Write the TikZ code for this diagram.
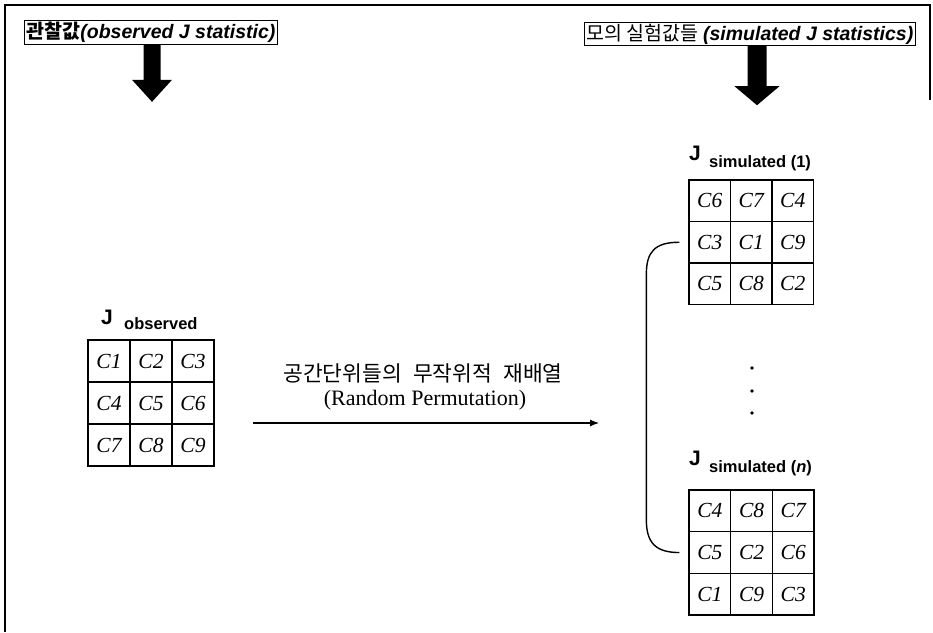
\documentclass[tikz,border=0pt]{standalone}
\usepackage{fontspec}
\setmainfont{Liberation Serif}
\newfontfamily\arial{Liberation Sans}
\newfontfamily\kr{Noto Sans CJK KR}
\usetikzlibrary{arrows.meta,calc}
\tikzset{
  cell/.style={draw, line width=1.3pt, minimum size=#1, inner sep=0pt, font=\fontsize{21.5}{21.5}\selectfont\itshape},
  header/.style={draw, line width=1.1pt, inner xsep=2pt, inner ysep=1.5pt, font=\fontsize{19.5}{19.5}\selectfont},
  jmain/.style={inner sep=0pt, anchor=base west, font=\arial\bfseries\fontsize{21}{21}\selectfont},
  jsub/.style={inner sep=0pt, anchor=base west, font=\arial\bfseries\fontsize{16.5}{16.5}\selectfont},
  blockarrow/.style={fill=black},
  frameline/.style={line width=1.8pt},
  permarrow/.style={line width=1.1pt, -{Latex[length=9pt,width=7pt]}},
  bracket/.style={line width=1.4pt},
}
\newcommand\mygrid[5]{%
  \foreach \t [count=\i from 0] in {#5} {%
    \pgfmathtruncatemacro\rr{div(\i,3)}%
    \pgfmathtruncatemacro\cc{mod(\i,3)}%
    \node[cell=#4pt] (#1-\rr\cc) at ({#2+\cc*#4+#4/2},{#3+\rr*#4+#4/2}) {\t};
  }%
}
\begin{document}
\begin{tikzpicture}[x=1pt,y=-1pt]
\useasboundingbox (0,0) rectangle (933,632);
\fill[white] (0,0) rectangle (933,632);
% frame
\draw[frameline] (5,632) -- (5,5) -- (930,5) -- (930,100);
% headers
\node[header] (hobs) at (151,32.5) {{\kr\bfseries 관찰값}{\arial\bfseries\itshape (observed J statistic)}};
\node[header] (hsim) at (750,34) {{\kr 모의 실험값들 }{\arial\bfseries\itshape (simulated J statistics)}};
% block arrows
\path (hobs.south -| 152,0) coordinate (ba1);
\path (hsim.south -| 757,0) coordinate (ba2);
\fill[blockarrow] ($(ba1)+(-8.5,0)$) -- ++(0,35) -- ++(-11.5,0) -- ($(ba1)+(0,57)$) -- ($(ba1)+(20,35)$) -- ++(-11.5,0) -- ($(ba1)+(8.5,0)$) -- cycle;
\fill[blockarrow] ($(ba2)+(-9.5,0)$) -- ++(0,40) -- ++(-13,0) -- ($(ba2)+(0,59)$) -- ($(ba2)+(22.5,40)$) -- ++(-13,0) -- ($(ba2)+(9.5,0)$) -- cycle;
% observed grid
\node[jmain] (jo) at (101,324) {J};
\node[jsub] (jos) at (124,329) {observed};
\mygrid{o}{88}{340}{42}{C1,C2,C3,C4,C5,C6,C7,C8,C9}
% simulated 1
\node[jmain] (j1) at (689,160) {J};
\node[jsub] (j1s) at (709,167) {simulated (1)};
\mygrid{a}{689}{180}{41.5}{C6,C7,C4,C3,C1,C9,C5,C8,C2}
% simulated n
\node[jmain] (jn) at (689,465) {J};
\node[jsub] (jns) at (709,472) {simulated (\textit{n})};
\mygrid{b}{689}{490}{41.7}{C4,C8,C7,C5,C2,C6,C1,C9,C3}
% dots
\fill (752,368) circle (1.8);
\fill (752,391) circle (1.8);
\fill (752,413) circle (1.8);
% permutation arrow
\coordinate (pa) at (253,423);
\coordinate (pb) at (599,423);
\draw[permarrow] (pa) -- (pb);
\node[font=\kr\fontsize{21.5}{21.5}\selectfont, inner sep=0pt] (pt1) at (423,373) {공간단위들의\hspace{11pt}무작위적\hspace{11pt}재배열};
\node[font=\fontsize{22}{22}\selectfont, inner sep=0pt] (pt2) at (425,400) {(Random Permutation)};
% bracket
\coordinate (brA) at ([xshift=-9pt]a-10.west);
\coordinate (brB) at ([xshift=-9pt]b-10.west);
\draw[bracket] (brA) .. controls +(-25,0) and +(0,-22) .. ($(brA)+(-33,32)$) -- ($(brB)+(-33,-33)$) .. controls +(0,22) and +(-25,0) .. (brB);
\end{tikzpicture}
\end{document}
